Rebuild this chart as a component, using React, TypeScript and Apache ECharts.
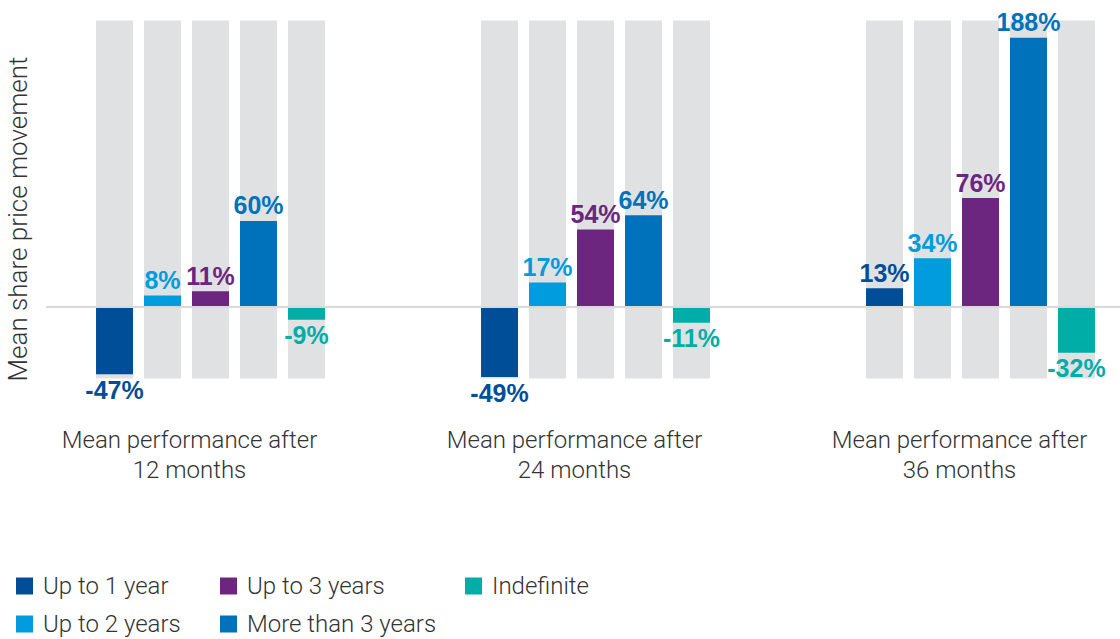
import React, { useEffect, useRef } from "react";
import * as echarts from "echarts";

const categories = ["Mean performance after\n12 months", "Mean performance after\n24 months", "Mean performance after\n36 months"];
const seriesNames = ["Up to 1 year", "Up to 2 years", "Up to 3 years", "More than 3 years", "Indefinite"];
const upTo1Year = [-47, -49, 13];
const upTo2Years = [8, 17, 34];
const upTo3Years = [11, 54, 76];
const moreThan3Years = [60, 64, 188];
const indefinite = [-9, -11, -32];
const seriesValues = [upTo1Year, upTo2Years, upTo3Years, moreThan3Years, indefinite];
const seriesColors = ["#004e98", "#009cde", "#6d2680", "#0072bc", "#00ada7"];
const legendColumns = [["Up to 1 year", "Up to 2 years"], ["Up to 3 years", "More than 3 years"], ["Indefinite"]];

const FONT = "Roboto, 'Liberation Sans', Arial, sans-serif";
const BOLD_FONT = "'Liberation Sans', Arial, sans-serif";

export default function App() {
  const ref = useRef<HTMLDivElement>(null);
  useEffect(() => {
    if (!ref.current) return;
    const chart = echarts.init(ref.current, undefined, { renderer: "svg" });
    const legendLefts = [16, 220, 465];
    const option: any = {
      animation: false,
      textStyle: { fontFamily: FONT },
      grid: {
        left: 18,
        width: 1155,
        top: 20.5,
        height: 358,
        containLabel: false,
        outerBoundsMode: "none",
      },
      xAxis: {
        type: "category",
        data: categories,
        axisLine: { show: false },
        axisTick: { show: false },
        axisLabel: {
          margin: 46,
          fontSize: 24,
          fontWeight: 300,
          color: "#333333",
          lineHeight: 30,
          padding: [0, 42, 0, 0],
          fontFamily: FONT,
        },
      },
      yAxis: {
        type: "value",
        min: -50,
        max: 200,
        show: false,
        splitLine: { show: false },
      },
      legend: legendColumns.map((col, i) => ({
        data: col,
        orient: "vertical",
        left: legendLefts[i],
        top: 574,
        icon: "rect",
        itemWidth: 17,
        itemHeight: 17,
        itemGap: 14,
        padding: 0,
        textStyle: { fontSize: 24, fontWeight: 300, color: "#333333", fontFamily: FONT, padding: [0, 0, 0, 5] },
      })),
      series: seriesNames.map((name, i) => ({
        name,
        type: "bar",
        barWidth: 37,
        barGap: "29.7%",
        showBackground: true,
        backgroundStyle: { color: "#e0e1e3" },
        itemStyle: { color: seriesColors[i] },
        data: seriesValues[i].map((v) => ({
          value: v,
          label: { position: v < 0 ? "bottom" : "top" },
        })),
        label: {
          show: true,
          distance: 3,
          formatter: "{c}%",
          fontSize: 25,
          fontWeight: "bold",
          color: seriesColors[i],
          fontFamily: BOLD_FONT,
        },
      })),
    };
    chart.setOption(option);
    const zeroY = chart.convertToPixel({ yAxisIndex: 0 }, 0) as number;
    chart.setOption({
      graphic: [
        {
          type: "line",
          shape: { x1: 46, y1: zeroY, x2: 1120, y2: zeroY },
          style: { stroke: "#d9d9d9", lineWidth: 2 },
          z: 100,
        },
        {
          type: "text",
          x: 18,
          y: 219,
          rotation: Math.PI / 2,
          style: {
            text: "Mean share price movement",
            fontSize: 26,
            fontWeight: 300,
            fill: "#333333",
            fontFamily: FONT,
            align: "center",
            verticalAlign: "middle",
          },
        },
      ],
    });
    return () => chart.dispose();
  }, []);
  return <div ref={ref} style={{ width: 1120, height: 639, position: "absolute", left: 0, top: 0 }} />;
}
